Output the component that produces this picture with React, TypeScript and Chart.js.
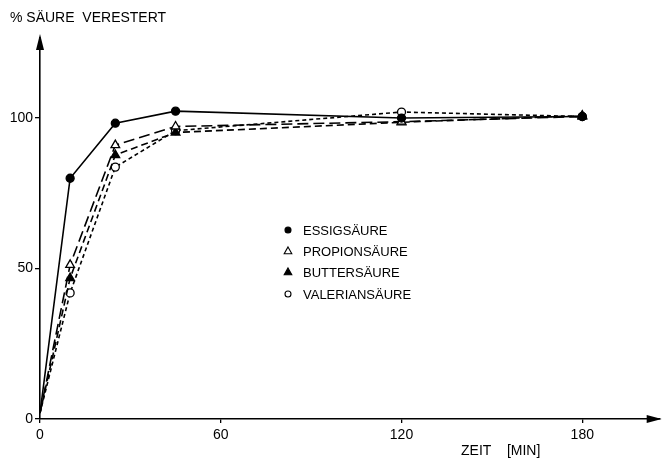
import React, { useEffect, useRef } from "react";
import { Chart, registerables } from "chart.js";

Chart.register(...registerables);

const times = [0, 10, 25, 45, 120, 180];
const essigsaeure = [2, 80, 98.3, 102.3, 100, 100.5];
const propionsaeure = [2, 51.2, 91, 97.2, 98.8, 100.5];
const buttersaeure = [2, 46.8, 87.7, 95.2, 98.6, 100.8];
const valeriansaeure = [2, 41.9, 83.7, 95.8, 102, 100.5];
const seriesNames = ["ESSIGSÄURE", "PROPIONSÄURE", "BUTTERSÄURE", "VALERIANSÄURE"];
const xTicks = [0, 60, 120, 180];
const yTicks = [0, 50, 100];
const yTitle = "% SÄURE  VERESTERT";
const xTitle = "ZEIT    [MIN]";

const FONT = "'Liberation Sans', Arial, sans-serif";

const styles = [
  { style: "circle", fill: "#000", dash: [] as number[], r: 4 },
  { style: "triangle", fill: "#fff", dash: [11, 5], r: 5 },
  { style: "triangle", fill: "#000", dash: [7, 4], r: 5 },
  { style: "circle", fill: "#fff", dash: [4, 3], r: 4 },
];

const overlay = {
  id: "overlay",
  afterDraw(chart: any) {
    const ctx = chart.ctx;
    const a = chart.chartArea;
    ctx.save();
    ctx.fillStyle = "#000";
    ctx.strokeStyle = "#000";
    // arrows
    ctx.beginPath();
    ctx.moveTo(a.left, a.top - 4);
    ctx.lineTo(a.left - 4, a.top + 12);
    ctx.lineTo(a.left + 4, a.top + 12);
    ctx.closePath();
    ctx.fill();
    ctx.beginPath();
    ctx.moveTo(a.right + 2, a.bottom);
    ctx.lineTo(a.right - 13, a.bottom - 4);
    ctx.lineTo(a.right - 13, a.bottom + 4);
    ctx.closePath();
    ctx.fill();
    // titles
    ctx.font = `14px ${FONT}`;
    ctx.textAlign = "left";
    ctx.textBaseline = "middle";
    ctx.fillText(yTitle, 10, 18);
    ctx.fillText(xTitle, 461, 451);
    // legend
    const lx = 288;
    const ly = [230, 251, 272, 294];
    seriesNames.forEach((name, i) => {
      const s = styles[i];
      ctx.lineWidth = 1.1;
      ctx.fillStyle = s.fill;
      ctx.strokeStyle = "#000";
      ctx.beginPath();
      const r = s.r - 1;
      if (s.style === "circle") {
        ctx.arc(lx, ly[i], r, 0, Math.PI * 2);
      } else {
        ctx.moveTo(lx, ly[i] - r);
        ctx.lineTo(lx + r * 0.95, ly[i] + r * 0.7);
        ctx.lineTo(lx - r * 0.95, ly[i] + r * 0.7);
        ctx.closePath();
      }
      ctx.fill();
      ctx.stroke();
      ctx.fillStyle = "#000";
      ctx.font = `13px ${FONT}`;
      ctx.fillText(name, 303, ly[i] + 1);
    });
    ctx.restore();
  },
};

export default function App() {
  const ref = useRef<HTMLCanvasElement | null>(null);
  useEffect(() => {
    if (!ref.current) return;
    const all = [essigsaeure, propionsaeure, buttersaeure, valeriansaeure];
    const chart = new Chart(ref.current, {
      type: "line",
      data: {
        datasets: all.map((vals, i) => ({
          label: seriesNames[i],
          data: times.map((t, j) => ({ x: t, y: vals[j] })),
          borderColor: "#000",
          borderWidth: 1.6,
          borderDash: styles[i].dash,
          backgroundColor: styles[i].fill,
          pointBorderColor: "#000",
          pointBackgroundColor: styles[i].fill,
          pointBorderWidth: 1.3,
          pointStyle: styles[i].style as any,
          pointRadius: times.map((t) => (t === 0 ? 0 : styles[i].r)),
          tension: 0,
          fill: false,
        })),
      },
      options: {
        animation: false,
        responsive: false,
        maintainAspectRatio: false,
        layout: { padding: { top: 38, right: 2, left: 0, bottom: 0 } },
        plugins: { legend: { display: false }, tooltip: { enabled: false } },
        scales: {
          x: {
            type: "linear",
            min: 0,
            max: 205.7,
            afterBuildTicks: (s: any) => {
              s.ticks = xTicks.map((v) => ({ value: v }));
            },
            afterFit: (s: any) => {
              s.height = 44;
            },
            grid: { drawOnChartArea: false, color: "#000", tickLength: 4, lineWidth: 1.3 },
            border: { color: "#000", width: 1.6 },
            ticks: { color: "#000", font: { family: FONT, size: 14 }, padding: 4, maxRotation: 0 },
          },
          y: {
            type: "linear",
            min: 0,
            max: 126.6,
            afterBuildTicks: (s: any) => {
              s.ticks = yTicks.map((v) => ({ value: v }));
            },
            afterFit: (s: any) => {
              s.width = 40;
            },
            grid: { drawOnChartArea: false, color: "#000", tickLength: 5, lineWidth: 1.3 },
            border: { color: "#000", width: 1.6 },
            ticks: { color: "#000", font: { family: FONT, size: 14 }, padding: 2 },
          },
        },
      },
      plugins: [overlay],
    });
    return () => chart.destroy();
  }, []);
  return (
    <div style={{ position: "fixed", left: 0, top: 0, width: 666, height: 463, background: "#fff" }}>
      <canvas ref={ref} width={666} height={463} style={{ width: 666, height: 463 }} />
    </div>
  );
}
